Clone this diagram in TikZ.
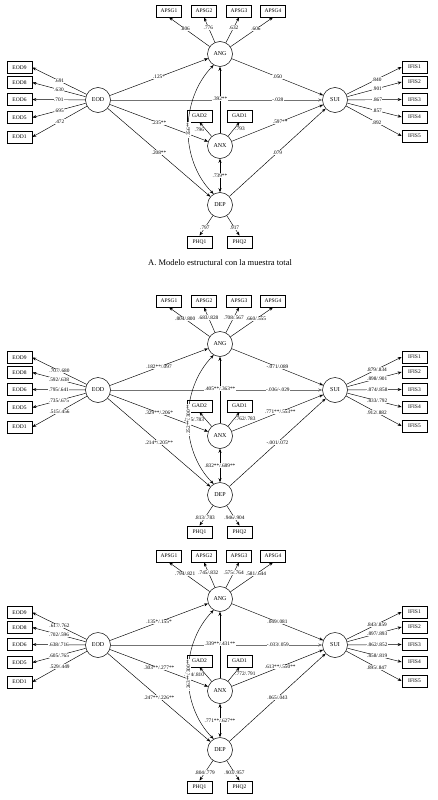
\documentclass[tikz,border=0pt]{standalone}
\usepackage{fontspec}
\setmainfont{Liberation Serif}
\usetikzlibrary{arrows.meta}
\tikzset{
  lat/.style={circle,draw,line width=0.5pt,minimum size=25pt,inner sep=0pt,fill=white,font=\fontsize{6}{7}\selectfont},
  obs/.style={rectangle,draw,line width=0.7pt,minimum width=25pt,minimum height=12pt,inner sep=0pt,fill=white,font=\fontsize{5.5}{6}\selectfont},
  con/.style={line width=0.45pt,-{Stealth[length=4pt,width=3pt]}},
  dcon/.style={line width=0.45pt,{Stealth[length=4pt,width=3pt]}-{Stealth[length=4pt,width=3pt]}},
  lbl/.style={font=\fontsize{5.3}{6}\selectfont,fill=white,inner sep=0.4pt},
  caption/.style={font=\fontsize{8.5}{10}\selectfont}
}
\newcommand\sempanel[2]{%
\begin{scope}[yshift=#2]
\node[lat] (#1ANG) at (220,54) {ANG};
\node[lat] (#1EOD) at (98,100) {EOD};
\node[lat] (#1SUI) at (335,100) {SUI};
\node[lat] (#1ANX) at (220,146) {ANX};
\node[lat] (#1DEP) at (220,205) {DEP};
\node[obs] (#1G1) at (169,11) {APSG1};
\node[obs] (#1G2) at (204,11) {APSG2};
\node[obs] (#1G3) at (239,11) {APSG3};
\node[obs] (#1G4) at (273,11) {APSG4};
\node[obs] (#1E9) at (19.5,67.5) {EOD9};
\node[obs] (#1E8) at (19.5,82.5) {EOD8};
\node[obs] (#1E6) at (19.5,99.5) {EOD6};
\node[obs] (#1E5) at (19.5,117.5) {EOD5};
\node[obs] (#1E1) at (19.5,137) {EOD1};
\node[obs] (#1I1) at (414.5,67) {IFIS1};
\node[obs] (#1I2) at (414.5,82) {IFIS2};
\node[obs] (#1I3) at (414.5,99.5) {IFIS3};
\node[obs] (#1I4) at (414.5,117) {IFIS4};
\node[obs] (#1I5) at (414.5,136) {IFIS5};
\node[obs] (#1GAD2) at (199.5,116) {GAD2};
\node[obs] (#1GAD1) at (239.5,116) {GAD1};
\node[obs] (#1P1) at (199.5,242) {PHQ1};
\node[obs] (#1P2) at (239.5,242) {PHQ2};
\draw[con] (#1ANG) -- node[lbl,pos=0.6]{\LgA} (#1G1.south);
\draw[con] (#1ANG) -- node[lbl,pos=0.6]{\LgB} (#1G2.south);
\draw[con] (#1ANG) -- node[lbl,pos=0.6]{\LgC} (#1G3.south);
\draw[con] (#1ANG) -- node[lbl,pos=0.6]{\LgD} (#1G4.south);
\draw[con] (#1EOD) -- node[lbl]{\LeA} (#1E9.east);
\draw[con] (#1EOD) -- node[lbl]{\LeB} (#1E8.east);
\draw[con] (#1EOD) -- node[lbl]{\LeC} (#1E6.east);
\draw[con] (#1EOD) -- node[lbl]{\LeD} (#1E5.east);
\draw[con] (#1EOD) -- node[lbl]{\LeE} (#1E1.east);
\draw[con] (#1SUI) -- node[lbl,pos=0.55]{\LiA} (#1I1.west);
\draw[con] (#1SUI) -- node[lbl,pos=0.55]{\LiB} (#1I2.west);
\draw[con] (#1SUI) -- node[lbl,pos=0.55]{\LiC} (#1I3.west);
\draw[con] (#1SUI) -- node[lbl,pos=0.55]{\LiD} (#1I4.west);
\draw[con] (#1SUI) -- node[lbl,pos=0.55]{\LiE} (#1I5.west);
\draw[con] (#1EOD) -- node[lbl]{\LeodAng} (#1ANG);
\draw[con,draw=black!55] (#1EOD) -- node[lbl,text=black,pos=0.79]{\LeodSui} (#1SUI);
\draw[con] (#1ANX) -- node[lbl,pos=0.52]{\LxAng} (#1ANG);
\draw[con] (#1EOD) -- node[lbl]{\LeodAnx} (#1ANX);
\draw[con] (#1EOD) -- node[lbl]{\LeodDep} (#1DEP);
\draw[con] (#1ANG) -- node[lbl]{\LangSui} (#1SUI);
\draw[con] (#1ANX) -- node[lbl,pos=0.53]{\LanxSui} (#1SUI);
\draw[con] (#1DEP) -- node[lbl]{\LdepSui} (#1SUI);
\draw[dcon] (#1ANX) -- node[lbl]{\LanxDep} (#1DEP);
\draw[con] (#1ANX) -- node[lbl,fill=none,pos=0.5,left=1pt]{\LgadB} (#1GAD2.south);
\draw[con] (#1ANX) -- node[lbl,fill=none,pos=0.5,right=1pt]{\LgadA} (#1GAD1.south);
\draw[con] (#1DEP) -- node[lbl,pos=0.6]{\LphqA} (#1P1.north);
\draw[con] (#1DEP) -- node[lbl,pos=0.6]{\LphqB} (#1P2.north);
\draw[dcon] (#1ANG.240) .. controls (180,100) and (180,160) .. node[lbl,rotate=90,pos=0.5]{\Lcurve} (#1DEP.120);
\end{scope}}
\begin{document}
\begin{tikzpicture}[x=1pt,y=-1pt]
\useasboundingbox (0,0) rectangle (438,800);
% Panel A
\def\LgA{.806}\def\LgB{.776}\def\LgC{.632}\def\LgD{.606}%
\def\LeA{.691}\def\LeB{.630}\def\LeC{.701}\def\LeD{.695}\def\LeE{.472}%
\def\LiA{.840}\def\LiB{.901}\def\LiC{.867}\def\LiD{.857}\def\LiE{.892}%
\def\LeodAng{.125*}\def\LeodSui{-.028}\def\LxAng{.392**}\def\LeodAnx{.235**}\def\LeodDep{.208**}%
\def\LangSui{.050}\def\LanxSui{.597**}\def\LdepSui{.079}\def\LanxDep{.739**}%
\def\LgadB{.796}\def\LgadA{.793}\def\LphqA{.797}\def\LphqB{.917}\def\Lcurve{.356**}%
\sempanel{A}{0pt}
\node[caption] (capA) at (220,263) {A. Modelo estructural con la muestra total};
% Panel B
\def\LgA{.804/.800}\def\LgB{.683/.828}\def\LgC{.708/.567}\def\LgD{.660/.555}%
\def\LeA{.707/.680}\def\LeB{.592/.638}\def\LeC{.795/.641}\def\LeD{.735/.675}\def\LeE{.515/.456}%
\def\LiA{.879/.834}\def\LiB{.898/.901}\def\LiC{.874/.858}\def\LiD{.833/.792}\def\LiE{.912/.882}%
\def\LeodAng{.182**/.097}\def\LeodSui{-.036/-.029}\def\LxAng{.405**/.363**}\def\LeodAnx{.329**/.206*}\def\LeodDep{.214*/.205**}%
\def\LangSui{-.071/.089}\def\LanxSui{.771**/.553**}\def\LdepSui{-.001/.072}\def\LanxDep{.832**/.689**}%
\def\LgadB{.805/.783}\def\LgadA{.762/.783}\def\LphqA{.813/.783}\def\LphqB{.946/.904}\def\Lcurve{.252**/.300**}%
\sempanel{B}{-290pt}
% Panel C
\def\LgA{.794/.821}\def\LgB{.745/.832}\def\LgC{.575/.764}\def\LgD{.581/.644}%
\def\LeA{.617/.762}\def\LeB{.702/.596}\def\LeC{.638/.716}\def\LeD{.605/.765}\def\LeE{.529/.449}%
\def\LiA{.843/.859}\def\LiB{.897/.893}\def\LiC{.862/.852}\def\LiD{.858/.819}\def\LiE{.895/.847}%
\def\LeodAng{.135*/.155*}\def\LeodSui{-.033/.059}\def\LxAng{.339**/.431**}\def\LeodAnx{.303**/.277**}\def\LeodDep{.247**/.226**}%
\def\LangSui{.049/.081}\def\LanxSui{.613**/.550**}\def\LdepSui{.065/.043}\def\LanxDep{.771**/.627**}%
\def\LgadB{.774/.810}\def\LgadA{.772/.791}\def\LphqA{.804/.779}\def\LphqB{.903/.957}\def\Lcurve{.263**/.300**}%
\sempanel{C}{-545pt}
\end{tikzpicture}
\end{document}
